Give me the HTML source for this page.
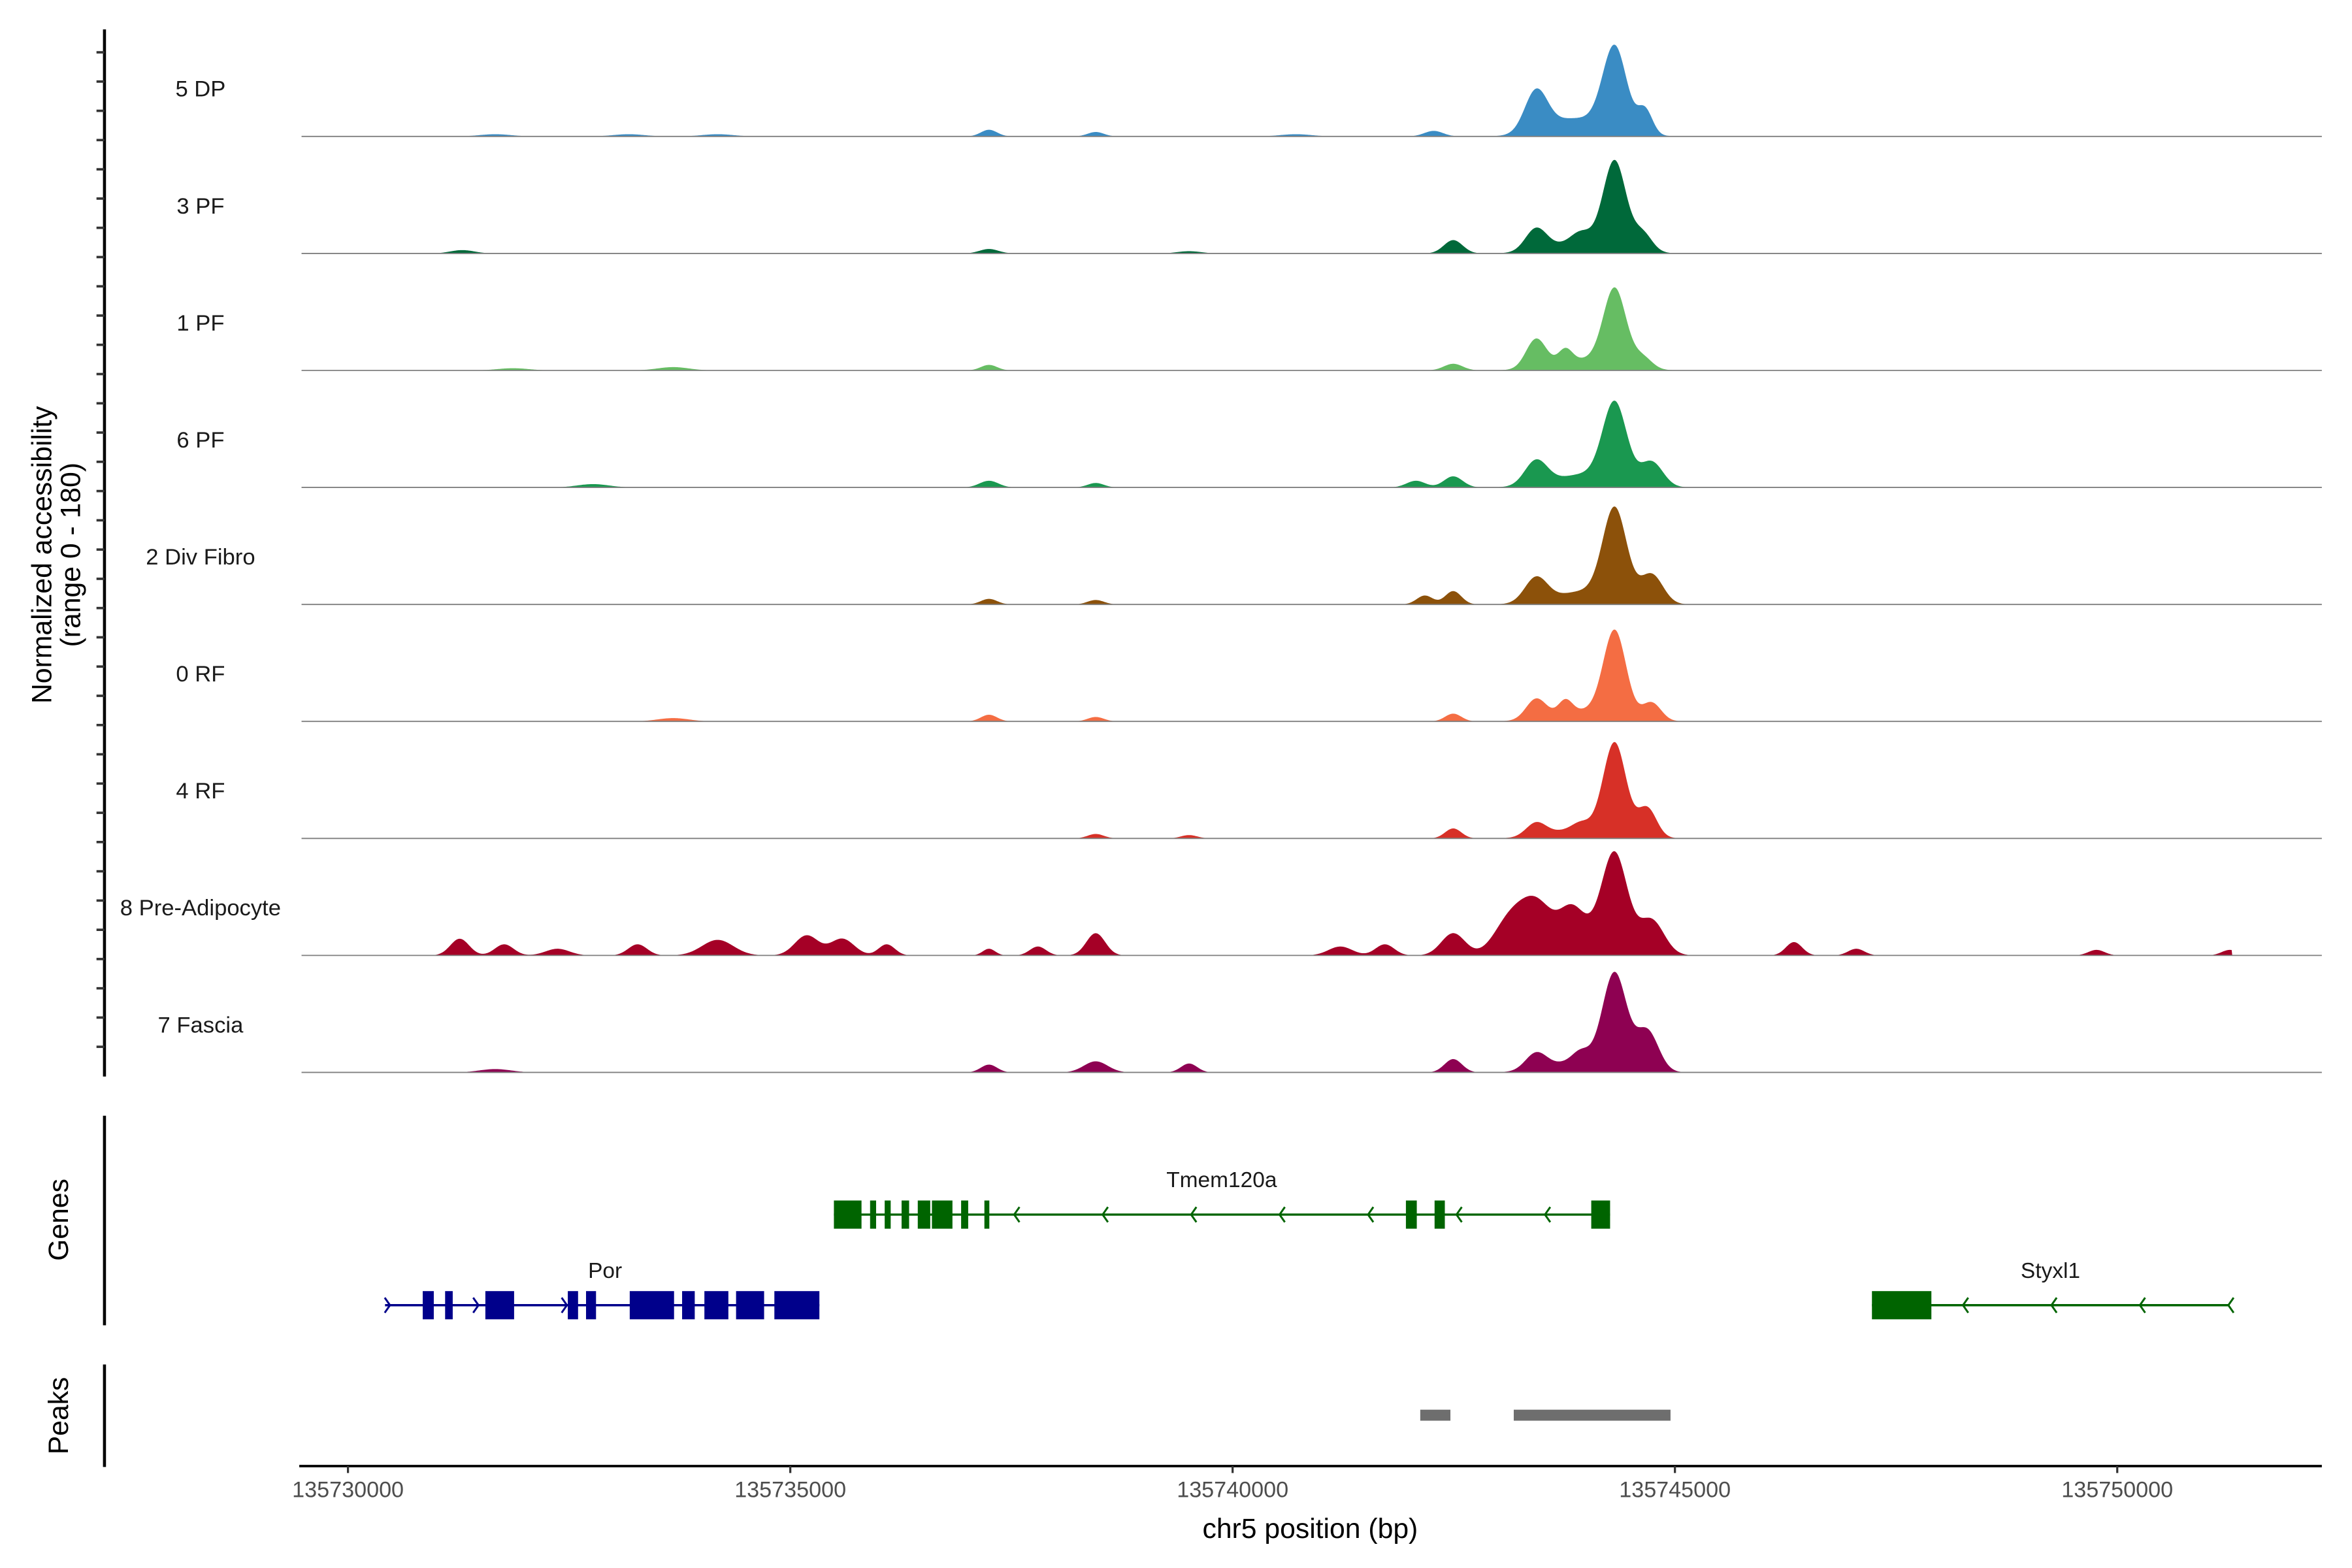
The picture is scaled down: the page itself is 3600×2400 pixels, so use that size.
<!DOCTYPE html>
<html><head><meta charset="utf-8"><style>
html,body{margin:0;padding:0;background:#fff;}
svg{display:block;font-family:"Liberation Sans",Arial,sans-serif;}
</style></head><body>
<svg id="chart" width="3600" height="2400" viewBox="0 0 1560 1040" xmlns="http://www.w3.org/2000/svg">
<g id="tracks"></g>
<g id="genes"></g>
<g id="peaks"></g>
<g id="axes"></g>
</svg>
<script>
// ---- data ----
const trackNames = ["5 DP","3 PF","1 PF","6 PF","2 Div Fibro","0 RF","4 RF","8 Pre-Adipocyte","7 Fascia"];
const trackColors = ["#3a8cc4","#00693a","#66bd63","#1a9850","#8c510a","#f46d43","#d73027","#a50026","#8e0152"];
// peak centers (bp offset from 135730000), heights (fraction of 0-180 range), widths (bp)
const peakCenters = [
 [14320,13430,14662,12273,7246,8453,1665,3174,4179,10715,14000,13700],
 [14320,13430,12494,14637,13933,1293,7246,9508,14000],
 [14320,13430,13762,14637,12494,7246,3676,1866,14000],
 [14320,13430,12494,14737,12072,7246,8453,2771,14000],
 [14320,13430,12494,12173,14737,7246,8453,14000],
 [14320,13430,13762,14737,12494,7246,8453,3676,14000],
 [14320,13430,12494,14687,13933,8453,9508,14000],
 [14320,13430,13128,13832,12494,14737,8453,1263,1766,3274,4179,5185,5587,6090,7246,7799,11218,11721,16346,17050,19765,21273,2369,14000],
 [14320,13430,12494,14687,13933,8453,9508,7246,1665,14000]
];
const peakHeights = [
 [0.74,0.36,0.22,0.05,0.06,0.04,0.02,0.02,0.02,0.02,0.12,0.06],
 [0.76,0.20,0.12,0.16,0.08,0.03,0.04,0.02,0.12],
 [0.68,0.26,0.12,0.10,0.06,0.05,0.03,0.02,0.10],
 [0.70,0.22,0.10,0.22,0.06,0.06,0.04,0.03,0.12],
 [0.80,0.22,0.12,0.08,0.26,0.05,0.04,0.12],
 [0.76,0.18,0.12,0.16,0.07,0.06,0.04,0.03,0.10],
 [0.80,0.12,0.09,0.26,0.05,0.04,0.03,0.10],
 [0.80,0.40,0.30,0.25,0.20,0.30,0.20,0.15,0.10,0.10,0.14,0.18,0.15,0.10,0.06,0.08,0.08,0.10,0.12,0.06,0.05,0.05,0.06,0.20],
 [0.82,0.15,0.12,0.36,0.08,0.10,0.08,0.07,0.03,0.12]
];
const peakWidths = [
 [190,180,120,150,130,130,250,250,250,250,500,400],
 [180,170,150,150,150,190,150,190,500],
 [180,160,110,150,150,130,250,250,500],
 [190,180,150,180,150,150,130,250,500],
 [190,180,130,130,180,130,130,500],
 [180,160,110,150,130,130,130,250,500],
 [180,160,130,150,130,130,130,500],
 [200,250,250,190,190,200,150,150,150,150,250,190,190,130,100,130,190,150,130,130,130,130,190,500],
 [190,170,140,180,130,190,130,130,250,500]
];
const xTicks = [135730000,135735000,135740000,135745000,135750000];
const genes = [
 {name:"Tmem120a",color:"#006400",row:0,start:5493,end:14267,strand:-1,arrowStart:7531,
  exons:[[5493,5805],[5902,5970],[6067,6135],[6258,6343],[6441,6582],[6601,6833],[6931,7011],[7194,7250],[11959,12082],[12283,12399],[14054,14267]], label:9876},
 {name:"Por",color:"#00008b",row:1,start:419,end:5329,strand:1,arrowStart:475,
  exons:[[845,970],[1098,1184],[1553,1878],[2485,2601],[2691,2804],[3185,3686],[3777,3920],[4029,4300],[4387,4704],[4820,5329]], label:2906},
 {name:"Styxl1",color:"#006400",row:1,start:17227,end:21251,strand:-1,arrowStart:18256,
  exons:[[17227,17899]], label:19245}
];
const peakRegions = [[12121,12462],[13178,14950]];

// ---- scales ----
const X0=198.5,X1=1540, BP0=135730000, PXPER=0.058675, XREF=230.8;
function xs(off){return XREF+off*PXPER;}
function xsAbs(bp){return XREF+(bp-BP0)*PXPER;}
const firstBase=90.5, trackH=77.6;
const NS="http://www.w3.org/2000/svg";
function mk(tag,attrs,parent){const e=document.createElementNS(NS,tag);for(const k in attrs)e.setAttribute(k,attrs[k]);parent.appendChild(e);return e;}

const tracks=document.getElementById('tracks');
trackNames.forEach((name,i)=>{
  const base=firstBase+trackH*i;
  const g=mk('g',{},tracks);
  
  
  const xStart=xs(450), xEnd=xs(21300);
  let d='M'+xStart+' '+base;
  for(let px=xStart;px<=xEnd;px+=0.5){
    const off=(px-XREF)/PXPER;
    let v=0;
    peakCenters[i].forEach((c,j)=>{const z=(off-c)/peakWidths[i][j];v+=peakHeights[i][j]*Math.exp(-z*z);});
    v=Math.min(v,1);
    d+=' L'+px.toFixed(1)+' '+(base-v*trackH*0.95).toFixed(2);
  }
  d+=' L'+xEnd+' '+base+' Z';
  const p=mk('path',{d:d,fill:trackColors[i],stroke:'none'},g);
  
  
  const l=mk('line',{x1:X0+1.5,x2:X1,y1:base,y2:base,stroke:'#7f7f7f','stroke-width':0.8},g);
  
  
  const t=mk('text',{x:133,y:base-26.5,'text-anchor':'middle','font-size':15,fill:'#1a1a1a'},g);
  t.textContent=name;
  
  
});

// genes
const gp=document.getElementById('genes');
genes.forEach(gn=>{
  const y= gn.row===0?805.6:865.7;
  const g=mk('g',{},gp);
  
  
  mk('line',{x1:xs(gn.start),x2:xs(gn.end),y1:y,y2:y,stroke:gn.color,'stroke-width':1.5},g);
  for(let a=gn.arrowStart;a<=gn.end+5;a+=1000){
    const tip=xs(a), dir=gn.strand;
    mk('polyline',{points:(tip-3.5*dir)+','+(y-5)+' '+tip+','+y+' '+(tip-3.5*dir)+','+(y+5),fill:'none',stroke:gn.color,'stroke-width':1.3},g);
  }
  gn.exons.forEach(e=>{
    const r=mk('rect',{x:xs(e[0]),y:y-9.35,width:Math.max(xs(e[1])-xs(e[0]),2),height:18.7,fill:gn.color},g);
    
    
  });
  const t=mk('text',{x:xs(gn.label),y:y-18.2,'text-anchor':'middle','font-size':14.5,fill:'#1a1a1a'},g);
  t.textContent=gn.name;
  
  
});

// peaks
const pp=document.getElementById('peaks');
peakRegions.forEach(r=>{
  const e=mk('rect',{x:xs(r[0]),y:935,width:xs(r[1])-xs(r[0]),height:7.3,fill:'#6e6e6e'},pp);
  
  
});

// axes
const ax=document.getElementById('axes');
[[19.5,714],[740,879],[905,973]].forEach(s=>{
  const l=mk('line',{x1:69.3,x2:69.3,y1:s[0],y2:s[1],stroke:'#000','stroke-width':2},ax);
  
  
});
for(let ty=34.7;ty<712;ty+=19.4){
  mk('line',{x1:64,x2:69.3,y1:ty,y2:ty,stroke:'#333','stroke-width':1.6},ax);
}
const xl=mk('line',{x1:X0,x2:X1,y1:972.4,y2:972.4,stroke:'#000','stroke-width':1.6},ax);


xTicks.forEach(v=>{
  mk('line',{x1:xsAbs(v),x2:xsAbs(v),y1:972.4,y2:977,stroke:'#333','stroke-width':1.4},ax);
  const t=mk('text',{x:xsAbs(v),y:993,'text-anchor':'middle','font-size':14.8,fill:'#4d4d4d'},ax);
  t.textContent=String(v);
  
  
});
const xt=mk('text',{x:869,y:1020,'text-anchor':'middle','font-size':18.5,fill:'#000'},ax);
xt.textContent='chr5 position (bp)';


const yt=mk('text',{transform:'translate(34,368) rotate(-90)','text-anchor':'middle','font-size':18.5,fill:'#000'},ax);


const s1=mk('tspan',{x:0,dy:0},yt); s1.textContent='Normalized accessibility';
const s2=mk('tspan',{x:0,dy:19},yt); s2.textContent='(range 0 - 180)';
const gt=mk('text',{transform:'translate(45,809) rotate(-90)','text-anchor':'middle','font-size':18.5,fill:'#000'},ax);
gt.textContent='Genes';


const pt=mk('text',{transform:'translate(45,939) rotate(-90)','text-anchor':'middle','font-size':18.5,fill:'#000'},ax);
pt.textContent='Peaks';


</script>
</body></html>
